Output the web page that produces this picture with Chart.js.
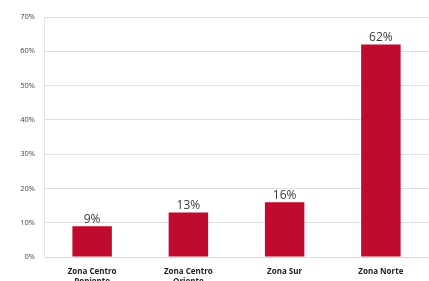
<!DOCTYPE html>
<html>
<head>
<meta charset="utf-8">
<script src="https://cdn.jsdelivr.net/npm/chart.js@4"></script>
<style>
  html, body { margin: 0; padding: 0; background: #fff; }
  #wrap { width: 429px; height: 281px; position: relative; }
</style>
</head>
<body>
<div id="wrap"><canvas id="grafico"></canvas></div>
<script>
// Datos del gráfico
const zonas = [["Zona Centro", "Poniente"], ["Zona Centro", "Oriente"], ["Zona Sur"], ["Zona Norte"]];
const porcentajes = [9, 13, 16, 62];

// Etiquetas de valor encima de cada barra
const etiquetasValor = {
  id: "etiquetasValor",
  afterDatasetsDraw(chart) {
    const ctx = chart.ctx;
    const meta = chart.getDatasetMeta(0);
    ctx.save();
    ctx.font = "12px 'Open Sans', sans-serif";
    ctx.fillStyle = "#3a3a3a";
    ctx.textAlign = "center";
    ctx.textBaseline = "bottom";
    meta.data.forEach((bar, i) => {
      ctx.fillText(porcentajes[i] + "%", bar.x, bar.y - 1);
    });
    ctx.restore();
  }
};

new Chart(document.getElementById("grafico"), {
  type: "bar",
  data: {
    labels: zonas,
    datasets: [{
      data: porcentajes,
      backgroundColor: "#c00a2e",
      barPercentage: 0.41,
      categoryPercentage: 1
    }]
  },
  options: {
    responsive: true,
    maintainAspectRatio: false,
    animation: false,
    layout: { padding: { top: 17, right: 0, left: 0, bottom: 0 } },
    plugins: {
      legend: { display: false },
      tooltip: { enabled: false }
    },
    scales: {
      x: {
        grid: { display: false },
        border: { color: "#d9d9d9" },
        ticks: {
          color: "#222",
          font: { size: 8, weight: "bold", family: "'Open Sans', sans-serif" },
          maxRotation: 0,
          padding: 2
        },
        afterFit(scale) { scale.height = 24; }
      },
      y: {
        min: 0,
        max: 70,
        grid: { color: "#e0e0e0", drawTicks: false },
        border: { color: "#e6e6e6" },
        ticks: {
          stepSize: 10,
          color: "#444",
          padding: 9,
          font: { size: 7.5, family: "'Open Sans', sans-serif" },
          callback: (v) => v + "%"
        },
        afterFit(scale) { scale.width = 44; }
      }
    }
  },
  plugins: [etiquetasValor]
});
</script>
</body>
</html>
